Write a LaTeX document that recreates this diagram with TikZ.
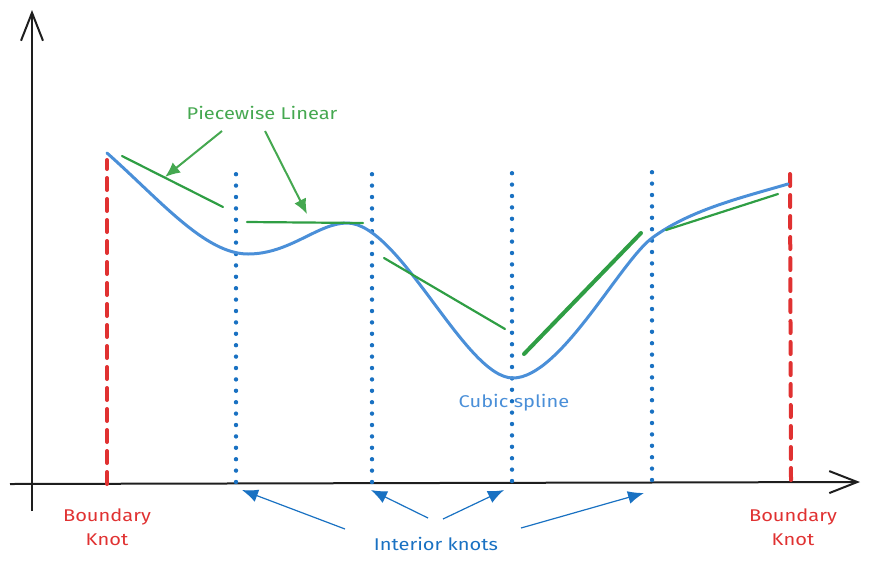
\documentclass[tikz,border=0pt]{standalone}
\usepackage{fontspec}
\setmainfont[FakeStretch=1.18]{Fira Sans}
\usetikzlibrary{arrows.meta}
\definecolor{axisc}{HTML}{1E1E1E}
\definecolor{redk}{HTML}{E03131}
\definecolor{bluek}{HTML}{1971C2}
\definecolor{bluecurve}{HTML}{4A8FD8}
\definecolor{greenl}{HTML}{2F9E44}
\definecolor{greenlab}{HTML}{45A850}
\tikzset{
  axisline/.style={draw=axisc,line width=2pt,-{Straight Barb[length=28pt,width=22pt,line width=2pt]}},
  boundk/.style={draw=redk,line width=4pt,dash pattern=on 12pt off 9pt,line cap=round},
  interk/.style={draw=bluek,line width=4.4pt,dash pattern=on 0pt off 11.4pt,line cap=round},
  curve/.style={draw=bluecurve,line width=3pt,line cap=round},
  seg/.style={draw=greenl,line width=2.2pt,line cap=round},
  thickseg/.style={draw=greenl,line width=4pt,line cap=round},
  greenarrow/.style={draw=greenlab,line width=2pt,-{Latex[length=15pt,width=13pt]}},
  bluearrow/.style={draw=bluek,line width=1.2pt,-{Latex[length=16pt,width=13pt]}},
  lab/.style={font=\fontsize{17}{24}\selectfont,align=center,inner sep=0pt},
}
\begin{document}
\begin{tikzpicture}[x=1pt,y=-1pt]
\useasboundingbox (0,0) rectangle (870,566);
% axes
\coordinate (yb) at (32,511);
\coordinate (yt) at (32,10);
\coordinate (xl) at (10,484);
\coordinate (xr) at (860,482);
\draw[axisline] (yb) -- (yt);
\draw[axisline] (xl) -- (xr);
% boundary knots
\coordinate (b1t) at (107,160); \coordinate (b1b) at (107,484);
\coordinate (b2t) at (790,170); \coordinate (b2b) at (791,480);
\draw[boundk] (b1b) -- (b1t);
\draw[boundk] (b2b) -- (b2t);
% interior knots
\coordinate (k1t) at (236,167); \coordinate (k1b) at (236,482);
\coordinate (k2t) at (372,169); \coordinate (k2b) at (372,482);
\coordinate (k3t) at (512,166); \coordinate (k3b) at (512,481);
\coordinate (k4t) at (652,168); \coordinate (k4b) at (652,480);
\draw[interk] (k1b) -- (k1t);
\draw[interk] (k2b) -- (k2t);
\draw[interk] (k3b) -- (k3t);
\draw[interk] (k4b) -- (k4t);
% cubic spline
\coordinate (c0) at (107,153);
\coordinate (c1) at (248,254);
\coordinate (c2) at (347,223);
\coordinate (c3) at (513,378);
\coordinate (c4) at (652,238);
\coordinate (c5) at (788,184);
\draw[curve] (c0) .. controls (160,200) and (205,254) .. (c1)
  .. controls (290,254) and (318,223) .. (c2)
  .. controls (400,223) and (465,378) .. (c3)
  .. controls (560,378) and (620,262) .. (c4)
  .. controls (690,210) and (740,198) .. (c5);
% piecewise linear segments
\coordinate (s1a) at (122,156); \coordinate (s1b) at (223,207);
\coordinate (s2a) at (247,222); \coordinate (s2b) at (363,223);
\coordinate (s3a) at (384,258); \coordinate (s3b) at (505,329);
\coordinate (s4a) at (524,354); \coordinate (s4b) at (641,233);
\coordinate (s5a) at (666,230); \coordinate (s5b) at (778,194);
\draw[seg] (s1a) -- (s1b);
\draw[seg] (s2a) -- (s2b);
\draw[seg] (s3a) -- (s3b);
\draw[thickseg] (s4a) -- (s4b);
\draw[seg] (s5a) -- (s5b);
% labels
\node[lab,text=greenlab] (pl) at (262,113) {Piecewise Linear};
\node[lab,text=bluecurve] (cs) at (514,403) {Cubic spline};
\node[lab,text=bluek] (ik) at (436,544) {Interior knots};
\node[lab,text=redk] (bk1) at (107,527) {Boundary\\Knot};
\node[lab,text=redk] (bk2) at (793,527) {Boundary\\Knot};
% label arrows
\coordinate (pa1) at (222,131); \coordinate (pt1) at (165,177);
\coordinate (pa2) at (265,131); \coordinate (pt2) at (307,214);
\draw[greenarrow] (pa1) -- (pt1);
\draw[greenarrow] (pa2) -- (pt2);
\coordinate (ia1) at (345,529); \coordinate (it1) at (242,490);
\coordinate (ia2) at (428,518); \coordinate (it2) at (371,490);
\coordinate (ia3) at (443,519); \coordinate (it3) at (504,490);
\coordinate (ia4) at (521,528); \coordinate (it4) at (644,493);
\draw[bluearrow] (ia1) -- (it1);
\draw[bluearrow] (ia2) -- (it2);
\draw[bluearrow] (ia3) -- (it3);
\draw[bluearrow] (ia4) -- (it4);
\end{tikzpicture}
\end{document}
